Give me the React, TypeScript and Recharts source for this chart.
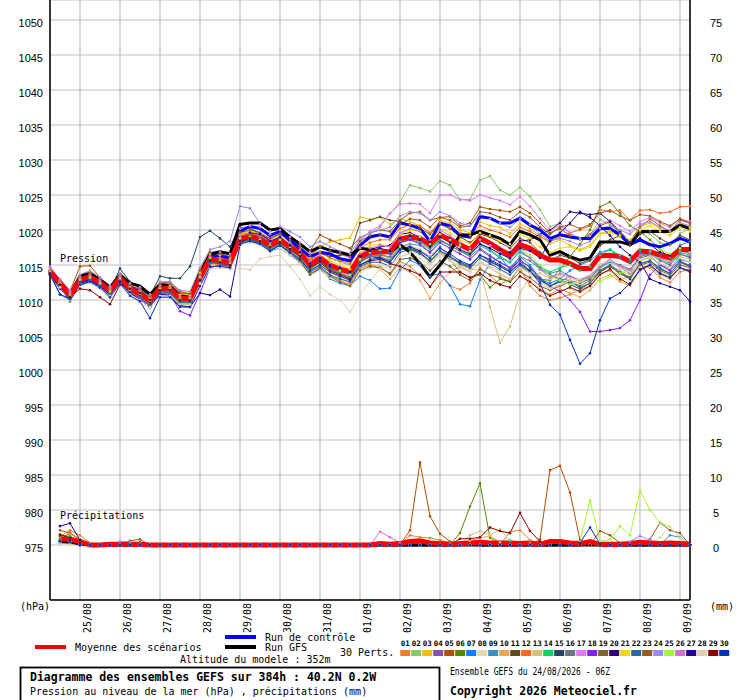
import React from "react";
import { ComposedChart, Line, XAxis, YAxis, CartesianGrid } from "recharts";

// 6-hourly steps from 24/08 06Z (index 0) to 09/09 06Z (index 64)
const dayLabels = ["25/08", "26/08", "27/08", "28/08", "29/08", "30/08", "31/08", "01/09", "02/09", "03/09", "04/09", "05/09", "06/09", "07/09", "08/09", "09/09"];
const dayTicks = [3, 7, 11, 15, 19, 23, 27, 31, 35, 39, 43, 47, 51, 55, 59, 63];
const pressureTicks = [975, 980, 985, 990, 995, 1000, 1005, 1010, 1015, 1020, 1025, 1030, 1035, 1040, 1045, 1050];
const rainTicks = [0, 5, 10, 15, 20, 25, 30, 35, 40, 45, 50, 55, 60, 65, 70, 75];

const memberColors = [
  "#E8802E", "#88C868", "#F0C000", "#8850B0", "#B05008", "#588800", "#0880FF", "#E8D8B0", "#3890C0", "#E8A850",
  "#604C20", "#F86820", "#D8C078", "#00D860", "#204860", "#687880", "#E078F8", "#8020F8", "#806030", "#300078",
  "#F0D800", "#2868A0", "#985820", "#9888F0", "#A0F830", "#D070D0", "#2000A0", "#E0D0B0", "#880000", "#0030C0",
];

const meanPressure = [
  1014.0, 1012.4, 1010.6, 1012.9, 1013.3, 1012.5, 1011.3, 1013.2, 1011.6, 1010.9, 1009.9, 1011.7, 1011.6, 1010.3, 1010.2,
  1013.2, 1015.9, 1015.6, 1015.3, 1018.8, 1019.1, 1018.7, 1017.9, 1018.6, 1017.6, 1016.7, 1015.0, 1016.0, 1015.0, 1014.4,
  1014.0, 1016.2, 1016.8, 1016.9, 1016.9, 1018.7, 1019.0, 1018.8, 1017.9, 1019.3, 1018.6, 1017.9, 1017.2, 1018.8, 1018.1,
  1017.2, 1016.4, 1017.9, 1017.4, 1016.4, 1015.7, 1015.7, 1015.2, 1014.5, 1014.5, 1016.3, 1016.4, 1016.2, 1015.5, 1017.0, 1016.9, 1016.4, 1016.0, 1017.2, 1017.2,
];
const controlPressure = [
  1013.8, 1012.2, 1010.3, 1012.6, 1013.0, 1012.2, 1011.0, 1013.0, 1011.8, 1011.2, 1010.0, 1012.0, 1011.6, 1010.4, 1010.0,
  1013.6, 1016.4, 1016.3, 1016.0, 1019.8, 1020.5, 1020.2, 1019.2, 1019.8, 1018.5, 1017.3, 1016.2, 1016.8, 1016.6, 1015.9,
  1015.6, 1017.8, 1019.0, 1019.3, 1019.0, 1021.0, 1020.7, 1020.2, 1018.4, 1021.0, 1020.6, 1019.2, 1019.0, 1021.9, 1021.7,
  1021.0, 1021.0, 1021.7, 1020.7, 1020.0, 1018.8, 1019.3, 1019.0, 1018.8, 1018.8, 1020.2, 1020.2, 1019.3, 1017.9, 1018.6, 1017.9, 1017.6, 1018.1, 1018.8, 1018.3,
];
const gfsPressure = [
  1014.2, 1012.6, 1010.8, 1013.4, 1013.8, 1012.9, 1011.8, 1013.6, 1012.4, 1012.0, 1010.8, 1012.2, 1012.0, 1010.6, 1010.4,
  1013.8, 1016.6, 1016.9, 1016.6, 1020.8, 1021.0, 1021.0, 1020.0, 1020.2, 1019.0, 1018.0, 1016.9, 1017.6, 1017.1, 1016.8,
  1016.4, 1017.4, 1017.2, 1017.0, 1016.8, 1017.9, 1016.8, 1015.2, 1013.3, 1015.0, 1016.9, 1019.3, 1019.3, 1019.8, 1019.3,
  1018.8, 1017.9, 1019.8, 1019.3, 1018.6, 1016.4, 1016.9, 1016.2, 1015.7, 1016.0, 1018.3, 1018.3, 1018.3, 1017.9, 1019.8, 1019.8, 1019.8, 1019.8, 1020.7, 1020.2,
];

const p01 = [
  1014.2, 1012.0, 1010.2, 1012.5, 1013.0, 1012.2, 1010.8, 1012.8, 1011.0, 1010.4, 1009.2, 1011.0, 1011.0, 1009.6, 1009.8,
  1012.6, 1015.2, 1015.0, 1014.6, 1018.2, 1018.6, 1018.0, 1017.2, 1017.8, 1016.6, 1015.4, 1013.8, 1014.6, 1013.5, 1012.8,
  1012.2, 1014.5, 1015.0, 1014.8, 1013.6, 1015.5, 1014.8, 1013.5, 1011.9, 1013.6, 1012.0, 1011.5, 1012.4, 1014.6, 1013.5,
  1012.2, 1013.0, 1014.5, 1012.0, 1010.6, 1010.0, 1010.3, 1010.8, 1011.5, 1012.0, 1013.8, 1014.2, 1012.8, 1013.5, 1015.0, 1014.6, 1013.2, 1012.5, 1014.0, 1014.4,
];
const p02 = [
  1013.8, 1012.6, 1011.0, 1013.2, 1013.8, 1012.9, 1011.6, 1013.5, 1012.0, 1011.4, 1010.4, 1012.2, 1012.0, 1010.8, 1010.6,
  1013.8, 1016.4, 1016.0, 1015.9, 1019.4, 1019.8, 1019.4, 1018.6, 1019.3, 1018.2, 1017.5, 1015.8, 1016.8, 1016.0, 1015.4,
  1015.0, 1017.5, 1019.4, 1020.4, 1022.4, 1024.0, 1026.4, 1026.0, 1025.5, 1027.0, 1026.4, 1024.3, 1024.4, 1027.1, 1027.7,
  1025.7, 1025.0, 1026.1, 1024.8, 1022.9, 1020.5, 1021.0, 1019.5, 1018.8, 1019.2, 1021.5, 1020.8, 1019.6, 1018.5, 1020.0, 1019.4, 1018.2, 1017.8, 1019.5, 1020.2,
];
const p03 = [
  1013.9, 1012.8, 1011.2, 1013.6, 1014.0, 1013.0, 1011.8, 1013.8, 1012.2, 1011.6, 1010.8, 1012.6, 1012.4, 1011.2, 1011.0,
  1014.4, 1016.8, 1016.6, 1016.2, 1019.6, 1019.8, 1019.2, 1018.2, 1018.8, 1017.4, 1016.8, 1016.0, 1017.6, 1018.3, 1018.6,
  1018.9, 1021.9, 1021.5, 1021.8, 1020.8, 1021.6, 1021.2, 1020.6, 1019.6, 1021.4, 1021.0, 1020.0, 1019.6, 1021.2, 1020.6,
  1020.4, 1019.5, 1020.9, 1020.2, 1019.2, 1018.0, 1018.6, 1017.8, 1017.2, 1017.8, 1019.5, 1019.9, 1019.0, 1018.2, 1020.5, 1021.0, 1020.2, 1019.6, 1021.0, 1020.4,
];
const p04 = [
  1014.1, 1012.2, 1010.4, 1012.8, 1013.1, 1012.4, 1011.0, 1013.0, 1011.3, 1010.6, 1009.5, 1011.4, 1011.2, 1010.0, 1009.9,
  1012.9, 1015.6, 1015.8, 1015.6, 1018.6, 1019.0, 1018.8, 1017.6, 1018.4, 1017.6, 1016.8, 1015.4, 1016.2, 1015.0, 1014.6,
  1013.8, 1015.8, 1016.4, 1016.2, 1015.6, 1017.4, 1017.6, 1017.0, 1016.2, 1017.6, 1016.0, 1015.2, 1014.5, 1016.0, 1015.4,
  1014.8, 1014.0, 1015.5, 1014.8, 1013.2, 1012.0, 1012.6, 1013.4, 1012.8, 1013.5, 1015.0, 1015.6, 1014.6, 1013.8, 1016.0, 1016.4, 1015.0, 1014.2, 1016.5, 1016.2,
];
const p05 = [
  1014.3, 1012.9, 1011.3, 1014.8, 1014.9, 1013.2, 1012.0, 1013.8, 1012.4, 1011.8, 1010.6, 1012.4, 1012.6, 1011.2, 1010.8,
  1014.2, 1016.2, 1016.4, 1016.0, 1019.4, 1019.6, 1019.2, 1018.8, 1019.5, 1018.6, 1017.8, 1017.0, 1019.3, 1018.6, 1018.0,
  1017.4, 1018.9, 1019.6, 1020.0, 1019.8, 1021.4, 1022.4, 1022.6, 1021.4, 1021.8, 1021.9, 1020.6, 1021.0, 1023.3, 1023.0,
  1022.8, 1022.6, 1023.3, 1022.4, 1021.0, 1019.6, 1020.2, 1019.2, 1018.6, 1019.4, 1020.6, 1021.2, 1019.4, 1018.4, 1020.4, 1021.6, 1020.6, 1019.8, 1021.4, 1021.0,
];
const p06 = [
  1013.6, 1011.8, 1009.8, 1012.2, 1012.8, 1011.8, 1010.6, 1012.6, 1011.0, 1010.2, 1009.2, 1011.0, 1010.8, 1009.4, 1009.4,
  1012.4, 1015.2, 1015.4, 1015.0, 1018.4, 1018.8, 1018.2, 1017.4, 1018.2, 1017.0, 1016.0, 1014.2, 1015.4, 1014.2, 1013.6,
  1013.0, 1015.6, 1016.4, 1016.6, 1016.0, 1017.8, 1017.2, 1016.8, 1015.4, 1016.8, 1015.8, 1014.0, 1013.2, 1013.6, 1011.8,
  1013.0, 1012.6, 1014.8, 1014.0, 1013.0, 1012.8, 1014.4, 1016.2, 1018.0, 1020.0, 1023.3, 1024.0, 1022.4, 1020.6, 1019.8, 1018.6, 1017.2, 1016.0, 1017.4, 1016.6,
];
const p07 = [
  1013.8, 1010.8, 1010.0, 1012.0, 1012.6, 1012.0, 1010.6, 1012.4, 1011.0, 1010.2, 1009.0, 1011.2, 1011.0, 1009.8, 1009.6,
  1012.8, 1015.4, 1015.2, 1014.8, 1018.2, 1018.4, 1018.0, 1017.0, 1017.4, 1016.4, 1015.6, 1013.6, 1014.4, 1013.0, 1012.4,
  1012.0, 1013.4, 1012.8, 1011.6, 1011.7, 1014.3, 1015.7, 1015.0, 1013.4, 1013.8, 1012.1, 1009.4, 1009.1, 1012.9, 1015.2,
  1016.2, 1014.3, 1016.2, 1015.0, 1013.0, 1012.4, 1013.0, 1014.2, 1015.0, 1015.6, 1016.8, 1017.2, 1016.0, 1015.4, 1016.8, 1016.2, 1015.0, 1014.6, 1015.8, 1015.4,
];
const p08 = [
  1013.6, 1011.8, 1010.0, 1012.0, 1012.4, 1011.6, 1010.2, 1012.2, 1010.6, 1009.6, 1008.8, 1010.4, 1010.4, 1009.0, 1009.2,
  1012.2, 1014.8, 1014.8, 1014.6, 1017.8, 1018.2, 1017.8, 1016.8, 1017.4, 1016.4, 1015.2, 1013.6, 1014.2, 1013.2, 1012.6,
  1012.0, 1013.8, 1014.6, 1015.0, 1014.4, 1016.2, 1016.8, 1016.4, 1015.2, 1016.6, 1015.6, 1014.8, 1014.2, 1015.6, 1014.8,
  1014.2, 1013.6, 1015.4, 1014.6, 1012.8, 1011.6, 1012.2, 1011.6, 1011.0, 1011.8, 1013.6, 1014.4, 1013.4, 1012.6, 1014.8, 1015.2, 1014.0, 1013.2, 1015.2, 1014.6,
];
const p09 = [
  1014.0, 1012.2, 1010.4, 1012.6, 1013.0, 1012.4, 1011.2, 1013.0, 1011.4, 1010.8, 1009.8, 1011.6, 1011.4, 1010.0, 1010.0,
  1013.0, 1015.8, 1015.4, 1015.0, 1018.6, 1019.0, 1018.4, 1017.6, 1018.4, 1017.2, 1016.2, 1014.6, 1015.6, 1014.6, 1014.0,
  1013.6, 1016.0, 1016.4, 1016.0, 1015.8, 1017.6, 1018.0, 1017.8, 1016.8, 1018.4, 1017.8, 1017.0, 1016.4, 1017.8, 1017.0,
  1016.0, 1015.4, 1016.8, 1016.0, 1014.6, 1013.8, 1014.2, 1013.4, 1012.8, 1013.2, 1014.6, 1015.4, 1014.8, 1014.2, 1016.2, 1017.0, 1016.6, 1016.0, 1017.8, 1018.4,
];
const p10 = [
  1014.3, 1012.5, 1010.8, 1013.0, 1013.4, 1012.6, 1011.4, 1013.3, 1011.8, 1011.0, 1010.0, 1011.8, 1011.8, 1010.4, 1010.4,
  1013.4, 1016.0, 1015.8, 1015.4, 1018.8, 1019.2, 1018.8, 1017.8, 1018.4, 1017.2, 1016.0, 1014.4, 1015.0, 1014.0, 1013.2,
  1012.4, 1014.6, 1015.2, 1014.4, 1013.0, 1014.6, 1014.0, 1012.8, 1010.2, 1012.4, 1014.0, 1014.8, 1014.0, 1015.4, 1014.6,
  1013.6, 1013.0, 1014.4, 1012.6, 1011.6, 1010.8, 1011.6, 1011.0, 1010.4, 1011.4, 1013.0, 1013.6, 1012.6, 1012.0, 1014.2, 1014.8, 1013.6, 1013.0, 1014.6, 1014.0,
];
const p11 = [
  1014.0, 1012.6, 1010.8, 1013.2, 1013.6, 1012.8, 1011.4, 1013.4, 1011.8, 1011.2, 1010.2, 1011.9, 1011.8, 1010.4, 1010.4,
  1013.6, 1016.2, 1016.0, 1015.8, 1019.0, 1019.4, 1019.0, 1018.2, 1018.8, 1017.8, 1016.8, 1015.6, 1016.8, 1016.2, 1016.4,
  1016.6, 1021.0, 1021.4, 1021.9, 1021.4, 1021.2, 1020.8, 1020.2, 1019.4, 1020.8, 1020.2, 1019.0, 1018.2, 1019.4, 1019.0,
  1018.2, 1017.4, 1018.8, 1018.2, 1016.8, 1015.6, 1016.4, 1016.0, 1015.2, 1015.8, 1017.8, 1018.6, 1019.2, 1017.8, 1019.4, 1019.8, 1018.8, 1018.0, 1019.2, 1018.6,
];
const p12 = [
  1014.2, 1012.4, 1010.6, 1012.9, 1013.4, 1012.6, 1011.5, 1013.4, 1011.9, 1011.2, 1010.2, 1012.0, 1011.9, 1010.6, 1010.6,
  1013.6, 1016.2, 1016.0, 1015.6, 1019.0, 1019.4, 1019.0, 1018.2, 1018.8, 1017.8, 1017.2, 1015.8, 1016.8, 1016.0, 1015.6,
  1015.2, 1017.4, 1018.2, 1018.6, 1018.6, 1020.2, 1020.8, 1020.6, 1019.6, 1021.0, 1020.4, 1019.6, 1019.2, 1020.6, 1020.0,
  1019.6, 1019.0, 1020.4, 1019.8, 1019.0, 1018.4, 1019.0, 1019.6, 1020.0, 1020.6, 1022.9, 1022.6, 1022.8, 1021.4, 1022.8, 1022.9, 1022.4, 1022.6, 1023.3, 1023.4,
];
const p13 = [
  1014.1, 1012.3, 1010.5, 1012.7, 1013.2, 1012.3, 1011.2, 1013.0, 1011.5, 1010.6, 1009.6, 1011.5, 1011.4, 1010.1, 1010.0,
  1013.0, 1015.6, 1015.4, 1015.0, 1018.4, 1018.8, 1018.4, 1017.6, 1018.2, 1017.0, 1016.2, 1014.6, 1015.2, 1014.2, 1013.8,
  1013.4, 1015.4, 1016.2, 1016.4, 1016.0, 1017.6, 1017.8, 1017.2, 1016.2, 1016.8, 1016.0, 1015.0, 1014.5, 1014.2, 1009.0,
  1003.9, 1006.2, 1011.0, 1013.3, 1013.8, 1013.0, 1013.6, 1013.2, 1012.6, 1013.0, 1014.4, 1015.0, 1014.2, 1013.6, 1015.6, 1016.0, 1015.2, 1014.6, 1016.2, 1015.8,
];
const p14 = [
  1013.9, 1012.0, 1010.2, 1012.4, 1013.0, 1012.2, 1011.0, 1013.0, 1011.2, 1010.6, 1009.6, 1011.4, 1011.2, 1009.8, 1009.8,
  1012.8, 1015.6, 1015.2, 1015.0, 1018.4, 1018.8, 1018.4, 1017.4, 1018.0, 1017.0, 1016.0, 1014.4, 1015.4, 1014.6, 1014.2,
  1013.8, 1016.0, 1016.8, 1017.0, 1016.8, 1018.4, 1018.8, 1018.4, 1017.4, 1018.6, 1017.8, 1017.0, 1016.4, 1018.0, 1017.2,
  1016.2, 1015.4, 1017.0, 1016.0, 1014.8, 1014.0, 1014.6, 1015.0, 1014.2, 1014.8, 1016.4, 1017.2, 1016.4, 1015.8, 1017.2, 1016.8, 1015.8, 1015.2, 1016.8, 1016.4,
];
const p15 = [
  1013.8, 1012.2, 1010.6, 1012.8, 1013.4, 1012.6, 1011.4, 1014.5, 1012.6, 1011.6, 1010.6, 1013.4, 1013.1, 1013.1, 1014.8,
  1019.0, 1019.9, 1018.8, 1017.6, 1020.4, 1020.2, 1019.6, 1018.4, 1018.8, 1017.6, 1016.4, 1014.8, 1015.6, 1014.4, 1013.8,
  1013.2, 1015.4, 1016.2, 1016.0, 1015.4, 1017.2, 1017.4, 1016.8, 1015.6, 1017.0, 1016.2, 1015.4, 1014.8, 1016.4, 1015.8,
  1015.0, 1014.2, 1015.8, 1014.6, 1013.0, 1012.0, 1012.8, 1012.2, 1011.6, 1012.4, 1014.0, 1014.8, 1013.8, 1013.0, 1015.2, 1015.6, 1014.4, 1013.8, 1015.4, 1014.8,
];
const p16 = [
  1014.0, 1012.5, 1010.7, 1013.0, 1013.4, 1012.5, 1011.3, 1013.2, 1011.7, 1011.0, 1010.0, 1011.8, 1011.6, 1010.3, 1010.2,
  1013.2, 1015.9, 1015.6, 1015.2, 1018.8, 1019.2, 1018.8, 1017.8, 1018.6, 1017.4, 1016.4, 1014.8, 1015.6, 1014.6, 1013.8,
  1013.2, 1015.6, 1016.2, 1016.4, 1016.2, 1018.2, 1018.6, 1018.2, 1017.2, 1018.6, 1017.8, 1017.0, 1016.2, 1017.4, 1016.4,
  1015.4, 1014.6, 1016.2, 1015.6, 1014.4, 1013.6, 1013.0, 1012.8, 1012.4, 1013.0, 1014.8, 1015.6, 1015.0, 1014.4, 1016.2, 1016.6, 1015.6, 1015.0, 1016.6, 1016.0,
];
const p17 = [
  1014.6, 1012.8, 1011.2, 1013.4, 1013.8, 1013.0, 1011.8, 1013.6, 1012.0, 1011.4, 1010.6, 1012.4, 1012.2, 1010.8, 1010.8,
  1014.0, 1016.6, 1016.8, 1016.6, 1020.2, 1020.6, 1020.4, 1019.4, 1020.0, 1019.0, 1018.2, 1016.8, 1017.6, 1017.0, 1016.6,
  1016.0, 1018.4, 1019.8, 1020.6, 1022.4, 1023.7, 1023.8, 1023.7, 1022.4, 1025.0, 1025.0, 1024.4, 1024.2, 1025.0, 1024.6,
  1024.2, 1023.6, 1024.8, 1023.4, 1021.6, 1020.0, 1020.6, 1019.6, 1018.6, 1019.2, 1020.8, 1021.4, 1020.6, 1019.8, 1021.2, 1021.8, 1021.0, 1020.4, 1021.6, 1021.2,
];
const p18 = [
  1014.2, 1012.0, 1010.2, 1012.4, 1012.8, 1012.0, 1010.8, 1012.8, 1011.0, 1010.2, 1009.2, 1010.8, 1010.8, 1008.4, 1007.8,
  1011.0, 1014.6, 1015.0, 1014.8, 1018.4, 1018.6, 1018.2, 1017.4, 1018.2, 1017.2, 1016.4, 1015.0, 1015.8, 1014.8, 1014.2,
  1013.6, 1015.8, 1016.6, 1016.8, 1016.6, 1018.2, 1018.6, 1018.0, 1016.8, 1018.2, 1017.4, 1016.6, 1015.8, 1017.2, 1016.2,
  1015.4, 1014.6, 1015.6, 1014.0, 1012.8, 1012.0, 1011.2, 1010.0, 1008.3, 1005.5, 1005.5, 1005.7, 1006.0, 1007.1, 1010.0, 1013.6, 1015.0, 1014.2, 1015.6, 1014.8,
];
const p19 = [
  1013.7, 1012.1, 1010.3, 1012.6, 1013.0, 1012.1, 1010.9, 1012.9, 1011.3, 1010.5, 1009.4, 1011.2, 1011.1, 1009.8, 1009.7,
  1012.6, 1015.4, 1015.2, 1014.8, 1018.2, 1018.6, 1018.2, 1017.4, 1018.0, 1016.8, 1015.6, 1013.6, 1014.6, 1013.4, 1012.6,
  1012.0, 1014.2, 1014.8, 1014.6, 1013.8, 1015.8, 1016.0, 1015.4, 1014.2, 1015.6, 1014.8, 1013.6, 1012.8, 1014.4, 1013.6,
  1013.2, 1012.6, 1014.0, 1013.2, 1012.0, 1011.4, 1012.0, 1012.6, 1012.0, 1012.8, 1014.2, 1014.8, 1013.8, 1013.2, 1015.0, 1015.4, 1014.2, 1013.6, 1015.0, 1014.6,
];
const p20 = [
  1014.0, 1012.2, 1010.4, 1012.7, 1013.1, 1012.3, 1011.1, 1013.1, 1011.5, 1010.8, 1009.7, 1011.5, 1011.5, 1010.2, 1010.1,
  1013.0, 1015.8, 1015.6, 1015.2, 1018.6, 1019.0, 1018.6, 1017.8, 1018.4, 1017.4, 1016.4, 1014.8, 1015.6, 1014.8, 1014.4,
  1014.0, 1016.4, 1017.2, 1017.6, 1017.8, 1019.4, 1019.6, 1019.0, 1018.2, 1019.6, 1018.8, 1018.0, 1017.4, 1018.8, 1018.0,
  1017.2, 1016.8, 1018.4, 1018.6, 1019.4, 1020.0, 1021.0, 1022.6, 1022.4, 1022.2, 1022.4, 1021.2, 1019.8, 1018.2, 1018.8, 1018.0, 1016.8, 1016.4, 1017.6, 1017.0,
];
const p21 = [
  1014.2, 1012.6, 1010.9, 1013.2, 1013.6, 1012.8, 1011.6, 1013.5, 1012.0, 1011.4, 1010.5, 1012.2, 1012.0, 1010.8, 1010.7,
  1014.0, 1016.6, 1016.4, 1016.0, 1019.4, 1019.8, 1019.4, 1018.4, 1019.0, 1018.0, 1017.0, 1015.6, 1016.4, 1015.6, 1015.0,
  1014.4, 1016.8, 1017.8, 1018.0, 1017.6, 1019.4, 1020.0, 1019.8, 1018.6, 1020.2, 1019.6, 1018.6, 1018.0, 1019.6, 1019.2,
  1018.4, 1018.0, 1019.4, 1018.8, 1017.6, 1016.8, 1017.4, 1017.6, 1017.0, 1017.6, 1019.4, 1019.6, 1019.2, 1018.6, 1020.0, 1020.6, 1019.8, 1019.2, 1020.4, 1019.8,
];
const p22 = [
  1013.9, 1012.0, 1010.1, 1012.5, 1013.0, 1012.1, 1010.9, 1012.9, 1011.2, 1010.4, 1009.2, 1011.2, 1011.0, 1009.6, 1009.6,
  1012.6, 1015.4, 1015.2, 1015.0, 1018.4, 1018.6, 1018.2, 1017.2, 1017.8, 1016.8, 1015.8, 1014.0, 1014.8, 1013.6, 1013.0,
  1012.6, 1014.8, 1015.4, 1015.4, 1014.8, 1016.8, 1017.2, 1016.6, 1015.6, 1017.0, 1016.2, 1015.2, 1014.6, 1016.0, 1015.2,
  1014.4, 1013.6, 1015.0, 1014.2, 1012.8, 1012.0, 1012.6, 1012.6, 1011.8, 1012.4, 1014.2, 1015.0, 1014.0, 1013.2, 1015.2, 1015.6, 1014.6, 1013.8, 1015.4, 1015.0,
];
const p23 = [
  1014.1, 1012.7, 1011.0, 1013.4, 1013.8, 1012.9, 1011.6, 1013.6, 1012.1, 1011.5, 1010.6, 1012.3, 1012.3, 1011.0, 1010.9,
  1014.2, 1016.8, 1016.6, 1016.2, 1019.6, 1020.0, 1019.6, 1018.8, 1019.4, 1018.6, 1017.6, 1016.4, 1017.6, 1017.0, 1016.6,
  1016.2, 1018.4, 1019.2, 1019.4, 1019.0, 1020.8, 1021.6, 1021.4, 1020.4, 1021.8, 1021.4, 1020.4, 1020.6, 1022.6, 1022.4,
  1021.8, 1021.4, 1022.6, 1021.8, 1020.4, 1019.4, 1020.4, 1020.8, 1020.2, 1020.8, 1022.4, 1022.8, 1022.0, 1021.4, 1022.2, 1022.0, 1021.2, 1020.6, 1021.6, 1021.0,
];
const p24 = [
  1014.6, 1013.0, 1011.4, 1013.6, 1014.2, 1013.2, 1012.0, 1013.8, 1012.4, 1011.8, 1010.8, 1012.6, 1012.6, 1011.4, 1011.2,
  1014.6, 1017.2, 1017.6, 1018.4, 1023.4, 1023.1, 1020.9, 1019.8, 1020.5, 1019.8, 1019.0, 1017.6, 1018.4, 1017.6, 1017.0,
  1016.6, 1018.8, 1019.6, 1020.0, 1020.4, 1022.0, 1022.6, 1022.4, 1021.4, 1022.6, 1022.0, 1021.0, 1020.6, 1022.2, 1021.6,
  1021.0, 1020.4, 1021.6, 1020.8, 1019.4, 1018.4, 1018.8, 1018.4, 1017.8, 1018.4, 1020.2, 1020.6, 1020.0, 1019.4, 1020.8, 1021.2, 1020.4, 1019.8, 1021.0, 1020.6,
];
const p25 = [
  1014.0, 1012.4, 1010.5, 1012.9, 1013.2, 1012.4, 1011.2, 1013.1, 1011.5, 1010.9, 1009.9, 1011.6, 1011.6, 1010.2, 1010.2,
  1013.2, 1016.0, 1015.6, 1015.2, 1018.8, 1019.0, 1018.6, 1017.8, 1018.6, 1017.6, 1016.6, 1015.2, 1016.0, 1015.0, 1014.2,
  1013.6, 1015.8, 1016.8, 1017.2, 1017.0, 1018.8, 1019.4, 1019.0, 1018.0, 1019.4, 1018.6, 1017.8, 1017.0, 1018.6, 1017.8,
  1016.8, 1016.0, 1017.4, 1016.4, 1015.0, 1013.4, 1012.8, 1012.2, 1012.6, 1013.4, 1012.6, 1013.4, 1013.8, 1014.2, 1015.6, 1016.2, 1017.2, 1016.6, 1017.4, 1016.8,
];
const p26 = [
  1014.8, 1012.9, 1011.0, 1013.2, 1013.5, 1012.7, 1011.5, 1013.4, 1011.8, 1011.2, 1010.2, 1012.0, 1011.8, 1010.5, 1010.4,
  1013.4, 1016.2, 1016.0, 1015.6, 1019.2, 1019.6, 1019.2, 1018.2, 1019.0, 1018.0, 1017.0, 1015.6, 1016.4, 1015.2, 1014.6,
  1014.0, 1016.6, 1017.4, 1017.8, 1017.6, 1019.6, 1020.2, 1019.8, 1018.6, 1020.0, 1019.2, 1018.2, 1017.4, 1018.6, 1017.8,
  1016.8, 1015.8, 1017.2, 1016.0, 1014.4, 1013.2, 1013.8, 1013.4, 1012.8, 1013.4, 1015.0, 1015.8, 1014.8, 1014.2, 1016.4, 1017.0, 1016.0, 1015.4, 1017.0, 1016.6,
];
const p27 = [
  1013.6, 1011.6, 1010.4, 1012.2, 1012.6, 1011.8, 1010.6, 1012.6, 1011.0, 1010.0, 1009.0, 1010.8, 1010.6, 1009.2, 1009.0,
  1011.0, 1010.7, 1011.5, 1010.5, 1017.9, 1019.6, 1019.4, 1018.4, 1019.0, 1017.8, 1016.8, 1015.2, 1016.0, 1015.0, 1014.6,
  1014.0, 1016.2, 1017.0, 1017.4, 1017.0, 1018.8, 1019.2, 1018.6, 1017.6, 1019.0, 1018.2, 1017.2, 1016.6, 1018.0, 1017.4,
  1016.6, 1016.0, 1017.4, 1017.0, 1016.0, 1018.4, 1019.6, 1021.0, 1022.6, 1021.8, 1020.6, 1019.2, 1017.6, 1016.4, 1015.4, 1013.0, 1012.4, 1011.9, 1011.4, 1009.8,
];
const p28 = [
  1013.8, 1011.8, 1010.2, 1012.2, 1012.6, 1011.8, 1010.6, 1012.4, 1010.8, 1010.0, 1009.0, 1010.6, 1010.6, 1009.4, 1009.4,
  1012.4, 1014.4, 1014.6, 1014.4, 1014.5, 1014.3, 1015.9, 1016.2, 1016.4, 1014.8, 1013.0, 1010.6, 1011.9, 1010.8, 1010.0,
  1008.3, 1010.7, 1012.6, 1014.5, 1015.0, 1016.2, 1016.6, 1016.0, 1015.0, 1016.4, 1015.6, 1014.6, 1014.0, 1015.4, 1014.6,
  1013.8, 1013.0, 1014.6, 1013.8, 1012.4, 1011.6, 1012.2, 1012.8, 1013.0, 1013.6, 1015.0, 1015.6, 1014.6, 1014.0, 1015.8, 1016.2, 1015.2, 1014.6, 1016.0, 1015.4,
];
const p29 = [
  1013.8, 1012.2, 1010.4, 1011.6, 1011.4, 1010.4, 1009.4, 1012.2, 1011.6, 1011.0, 1010.0, 1011.4, 1011.4, 1010.0, 1009.9,
  1012.8, 1015.6, 1015.4, 1015.0, 1018.4, 1018.8, 1018.4, 1017.6, 1018.2, 1017.2, 1016.2, 1014.6, 1015.4, 1014.2, 1013.6,
  1013.0, 1015.0, 1015.6, 1015.8, 1015.2, 1014.8, 1014.2, 1013.6, 1011.9, 1014.0, 1014.0, 1014.0, 1013.2, 1013.8, 1012.8,
  1012.2, 1011.8, 1013.4, 1012.6, 1011.4, 1010.6, 1011.2, 1011.8, 1011.2, 1012.0, 1013.6, 1014.4, 1013.0, 1012.2, 1014.4, 1015.0, 1013.8, 1013.2, 1014.6, 1014.0,
];
const p30 = [
  1013.6, 1010.8, 1010.2, 1012.2, 1012.6, 1011.8, 1010.4, 1012.4, 1010.6, 1009.8, 1007.4, 1010.4, 1010.4, 1009.0, 1009.0,
  1012.0, 1014.8, 1014.8, 1014.6, 1018.0, 1018.4, 1018.0, 1017.0, 1017.8, 1016.8, 1015.8, 1014.2, 1015.0, 1014.0, 1013.4,
  1012.8, 1015.0, 1015.8, 1016.0, 1015.4, 1017.2, 1017.6, 1017.0, 1016.0, 1017.4, 1016.6, 1015.6, 1015.0, 1016.4, 1015.6,
  1014.8, 1014.0, 1015.2, 1014.2, 1012.4, 1009.3, 1007.9, 1004.3, 1000.9, 1002.4, 1007.1, 1010.2, 1011.0, 1012.4, 1014.3, 1015.0, 1013.8, 1013.2, 1014.6, 1014.2,
];
const memberPressure = [p01, p02, p03, p04, p05, p06, p07, p08, p09, p10, p11, p12, p13, p14, p15, p16, p17, p18, p19, p20, p21, p22, p23, p24, p25, p26, p27, p28, p29, p30];

// precipitation (mm per 6h); no value at the initial step
const meanRain = [
  null, 0.9, 0.8, 0.5, 0, 0, 0.1, 0.1, 0.1, 0.1, 0, 0, 0, 0, 0,
  0, 0, 0, 0, 0, 0, 0, 0, 0, 0, 0, 0, 0, 0, 0,
  0, 0, 0, 0.2, 0.1, 0.2, 0.5, 0.6, 0.3, 0.2, 0.1, 0.2, 0.3, 0.4, 0.3,
  0.3, 0.3, 0.2, 0.3, 0.1, 0.5, 0.5, 0.3, 0.2, 0.5, 0.1, 0.1, 0.1, 0.2, 0.4, 0.3, 0.2, 0.3, 0.2, 0.1,
];
// [step, mm] for steps with rain; all other steps are dry
const controlRain: [number, number][] = [[1, 0.6], [2, 0.5], [3, 0.2], [42, 0.2], [54, 0.3]];
const gfsRain: [number, number][] = [[1, 0.5], [2, 0.4], [3, 0.2]];
const r01: [number, number][] = [[1, 1.2], [2, 2.1], [3, 1.4], [4, 0.3], [36, 1.4], [37, 1.1], [38, 1.0], [39, 0.7], [40, 0.3], [46, 1.9], [47, 2.1], [48, 0.7]];
const r02: [number, number][] = [[1, 0.5], [2, 0.6], [3, 0.2]];
const r03: [number, number][] = [[1, 0.6], [2, 0.7], [3, 0.2]];
const r04: [number, number][] = [[1, 0.4], [2, 0.5]];
const r05: [number, number][] = [[1, 2.1], [2, 1.7], [3, 0.8], [36, 2.1], [37, 11.8], [38, 4.1], [39, 1.6], [40, 0.5], [49, 0.8], [50, 10.7], [51, 11.3], [52, 7.5], [53, 0.7], [55, 2.0], [56, 1.4], [57, 0.3]];
const r06: [number, number][] = [[1, 1.2], [2, 0.9], [41, 1.7], [42, 5.5], [43, 8.8], [44, 1.0], [45, 0.3]];
const r07: [number, number][] = [[1, 0.5], [2, 0.4]];
const r08: [number, number][] = [[1, 0.3], [2, 0.5]];
const r09: [number, number][] = [[1, 0.6], [2, 0.5], [62, 1.4], [63, 1.1]];
const r10: [number, number][] = [[1, 0.9], [2, 1.6], [3, 0.8], [42, 0.6], [43, 1.0], [44, 1.3], [45, 0.4]];
const r11: [number, number][] = [[1, 1.4], [2, 1.2], [3, 0.5]];
const r12: [number, number][] = [[1, 0.8], [2, 1.8], [3, 0.6], [48, 0.4]];
const r13: [number, number][] = [[1, 0.4], [2, 0.5], [42, 1.4], [43, 2.0], [44, 1.4], [45, 2.2], [46, 0.6]];
const r14: [number, number][] = [[1, 1.0], [2, 1.3], [3, 0.4], [46, 0.6]];
const r15: [number, number][] = [[1, 0.5], [2, 0.3]];
const r16: [number, number][] = [[1, 0.4], [2, 0.6]];
const r17: [number, number][] = [[1, 0.7], [2, 0.5]];
const r18: [number, number][] = [[1, 0.3], [2, 0.4]];
const r19: [number, number][] = [[1, 0.6], [2, 0.7], [9, 0.4]];
const r20: [number, number][] = [[1, 2.7], [2, 3.1], [3, 0.7]];
const r21: [number, number][] = [[1, 0.3], [2, 0.2]];
const r22: [number, number][] = [[1, 0.5], [2, 0.4]];
const r23: [number, number][] = [[1, 0.8], [2, 0.6], [8, 0.6], [9, 0.8], [60, 0.8], [61, 3.2], [62, 2.1], [63, 1.7]];
const r24: [number, number][] = [[1, 0.5], [2, 0.4], [7, 0.5], [8, 0.4], [58, 0.5], [59, 1.3], [60, 0.7]];
const r25: [number, number][] = [[1, 0.4], [2, 0.5], [53, 0.5], [54, 6.4], [55, 0.5], [56, 0.8], [57, 2.7], [58, 1.4], [59, 7.8], [60, 5.0], [61, 3.2], [62, 2.6], [63, 1.0]];
const r26: [number, number][] = [[1, 0.6], [2, 0.5], [33, 1.9], [34, 1.1], [35, 0.3]];
const r27: [number, number][] = [[1, 0.5], [2, 0.6]];
const r28: [number, number][] = [[1, 0.4], [2, 0.3], [61, 1.1], [62, 2.6], [63, 1.0]];
const r29: [number, number][] = [[1, 1.5], [2, 1.0], [3, 0.3], [41, 0.9], [42, 0.9], [43, 1.1], [44, 2.5], [45, 2.0], [46, 1.7], [47, 4.6], [48, 2.0], [49, 0.5]];
const r30: [number, number][] = [[1, 0.5], [2, 0.4], [53, 0.3], [54, 2.5], [55, 0.2]];
const memberRainPairs = [r01, r02, r03, r04, r05, r06, r07, r08, r09, r10, r11, r12, r13, r14, r15, r16, r17, r18, r19, r20, r21, r22, r23, r24, r25, r26, r27, r28, r29, r30];

const STEPS = meanPressure.length;
const rainSeries = (pairs: [number, number][]) => {
  const s: (number | null)[] = meanRain.map((_, i) => (i === 0 ? null : 0));
  pairs.forEach(([i, v]) => (s[i] = v));
  return s;
};
const memberRain = memberRainPairs.map(rainSeries);
const ctrlRainS = rainSeries(controlRain);
const gfsRainS = rainSeries(gfsRain);

const rows = Array.from({ length: STEPS }, (_, i) => {
  const row: Record<string, number | null> = {
    i,
    mean: meanPressure[i],
    ctrl: controlPressure[i],
    gfs: gfsPressure[i],
    rMean: meanRain[i],
    rCtrl: ctrlRainS[i],
    rGfs: gfsRainS[i],
  };
  memberPressure.forEach((p, k) => (row[`p${k}`] = p[i]));
  memberRain.forEach((r, k) => (row[`r${k}`] = r[i]));
  return row;
});

// 7 px per hPa, 600 px plot: 1050 sits 20 px below the top, 975 55 px above the axis
const P_DOMAIN = [975 - 55 / 7, 1050 + 20 / 7];
const R_DOMAIN = [-55 / 7, 75 + 20 / 7];

const mono = "DejaVu Sans Mono";
const sans = "Liberation Sans";

const LeftTick = (props: any) => (
  <text x={43} y={props.y + 7} textAnchor="end" fontFamily={sans} fontSize={11} fill="#000">
    {props.payload.value}
  </text>
);
const RightTick = (props: any) => (
  <text x={716} y={props.y + 7} textAnchor="middle" fontFamily={sans} fontSize={11} fill="#000">
    {props.payload.value}
  </text>
);
const DayTick = (props: any) => {
  const label = dayLabels[dayTicks.indexOf(props.payload.value)];
  return (
    <text transform={`translate(${props.x + 10.5},603) rotate(-90)`} textAnchor="end" fontFamily={mono} fontSize={10} fill="#000">
      {label}
    </text>
  );
};

function Overlay() {
  return (
    <svg width={740} height={700} style={{ position: "absolute", left: 0, top: 0, pointerEvents: "none" }}>
      <text x={60} y={262} fontFamily={mono} fontSize={10}>Pression</text>
      <text x={60} y={519} fontFamily={mono} fontSize={10}>Précipitations</text>
      <text x={20} y={610} fontFamily={mono} fontSize={10}>(hPa)</text>
      <text x={710} y={610} fontFamily={mono} fontSize={10}>(mm)</text>

      <rect x={35} y={645} width={31} height={4} fill="#FF0000" />
      <text x={75} y={650.5} fontFamily={mono} fontSize={10}>Moyenne des scénarios</text>
      <rect x={225} y={635} width={31} height={4} fill="#0000FF" />
      <text x={265} y={640.5} fontFamily={mono} fontSize={10}>Run de contrôle</text>
      <rect x={225} y={645} width={31} height={4} fill="#000000" />
      <text x={265} y={650.5} fontFamily={mono} fontSize={10}>Run GFS</text>
      <text x={180} y={663} fontFamily={mono} fontSize={10}>Altitude du modele : 352m</text>
      <text x={340} y={655.5} fontFamily={mono} fontSize={10}>30 Perts.</text>

      {memberColors.map((c, k) => (
        <g key={k}>
          <text x={405.2 + 11 * k} y={646.3} textAnchor="middle" fontFamily={mono} fontWeight="bold" fontSize={7.5}>
            {String(k + 1).padStart(2, "0")}
          </text>
          <rect x={400.2 + 11 * k} y={650} width={10} height={6} fill={c} />
        </g>
      ))}

      <rect x={20.5} y={667.5} width={419} height={40} fill="none" stroke="#000" strokeWidth={1.8} />
      <text x={30} y={680.5} fontFamily={mono} fontWeight="bold" fontSize={11.5}>
        Diagramme des ensembles GEFS sur 384h : 40.2N 0.2W
      </text>
      <text x={30} y={695} fontFamily={mono} fontSize={10}>
        Pression au niveau de la mer (hPa) , précipitations (mm)
      </text>
      <text x={450} y={675} fontFamily={mono} fontSize={10} textLength={160} lengthAdjust="spacingAndGlyphs">
        Ensemble GEFS du 24/08/2026 - 06Z
      </text>
      <text x={450} y={695} fontFamily={mono} fontWeight="bold" fontSize={11.5}>
        Copyright 2026 Meteociel.fr
      </text>
    </svg>
  );
}

export default function App() {
  return (
    <div style={{ position: "absolute", left: 0, top: 0, width: 740, height: 700, background: "#fff" }}>
      <ComposedChart width={740} height={700} data={rows} margin={{ top: 0, right: 0, bottom: 0, left: 0 }}>
        <CartesianGrid yAxisId="p" stroke="#C0C0C0" strokeWidth={1.2} />
        <XAxis
          dataKey="i"
          type="number"
          domain={[0, STEPS - 1]}
          ticks={dayTicks}
          interval={0}
          height={100}
          tick={DayTick}
          tickLine={false}
          axisLine={{ stroke: "#000", strokeWidth: 1.5 }}
        />
        <YAxis
          yAxisId="p"
          orientation="left"
          type="number"
          width={50}
          domain={P_DOMAIN}
          ticks={pressureTicks}
          interval={0}
          allowDataOverflow
          tick={LeftTick}
          tickLine={false}
          axisLine={{ stroke: "#000", strokeWidth: 1.5 }}
        />
        <YAxis
          yAxisId="r"
          orientation="right"
          type="number"
          width={50}
          domain={R_DOMAIN}
          ticks={rainTicks}
          interval={0}
          allowDataOverflow
          tick={RightTick}
          tickLine={false}
          axisLine={{ stroke: "#000", strokeWidth: 1.5 }}
        />

        {memberColors.map((c, k) => (
          <Line
            key={`r${k}`}
            yAxisId="r"
            dataKey={`r${k}`}
            type="linear"
            stroke={c}
            strokeWidth={1}
            dot={{ r: 1.3, fill: c, stroke: "none" }}
            activeDot={false}
            isAnimationActive={false}
          />
        ))}
        {memberColors.map((c, k) => (
          <Line
            key={`p${k}`}
            yAxisId="p"
            dataKey={`p${k}`}
            type="linear"
            stroke={c}
            strokeWidth={1}
            dot={{ r: 1.3, fill: c, stroke: "none" }}
            activeDot={false}
            isAnimationActive={false}
          />
        ))}

        <Line yAxisId="r" dataKey="rCtrl" type="linear" stroke="#0000FF" strokeWidth={3} dot={false} activeDot={false} isAnimationActive={false} />
        <Line yAxisId="r" dataKey="rGfs" type="linear" stroke="#000000" strokeWidth={3} dot={false} activeDot={false} isAnimationActive={false} />
        <Line yAxisId="p" dataKey="ctrl" type="linear" stroke="#0000FF" strokeWidth={3} dot={false} activeDot={false} isAnimationActive={false} />
        <Line yAxisId="p" dataKey="gfs" type="linear" stroke="#000000" strokeWidth={3} dot={false} activeDot={false} isAnimationActive={false} />
        <Line yAxisId="r" dataKey="rMean" type="linear" stroke="#FF0000" strokeWidth={5} dot={false} activeDot={false} isAnimationActive={false} />
        <Line yAxisId="p" dataKey="mean" type="linear" stroke="#FF0000" strokeWidth={5} dot={false} activeDot={false} isAnimationActive={false} />
      </ComposedChart>
      <Overlay />
    </div>
  );
}
